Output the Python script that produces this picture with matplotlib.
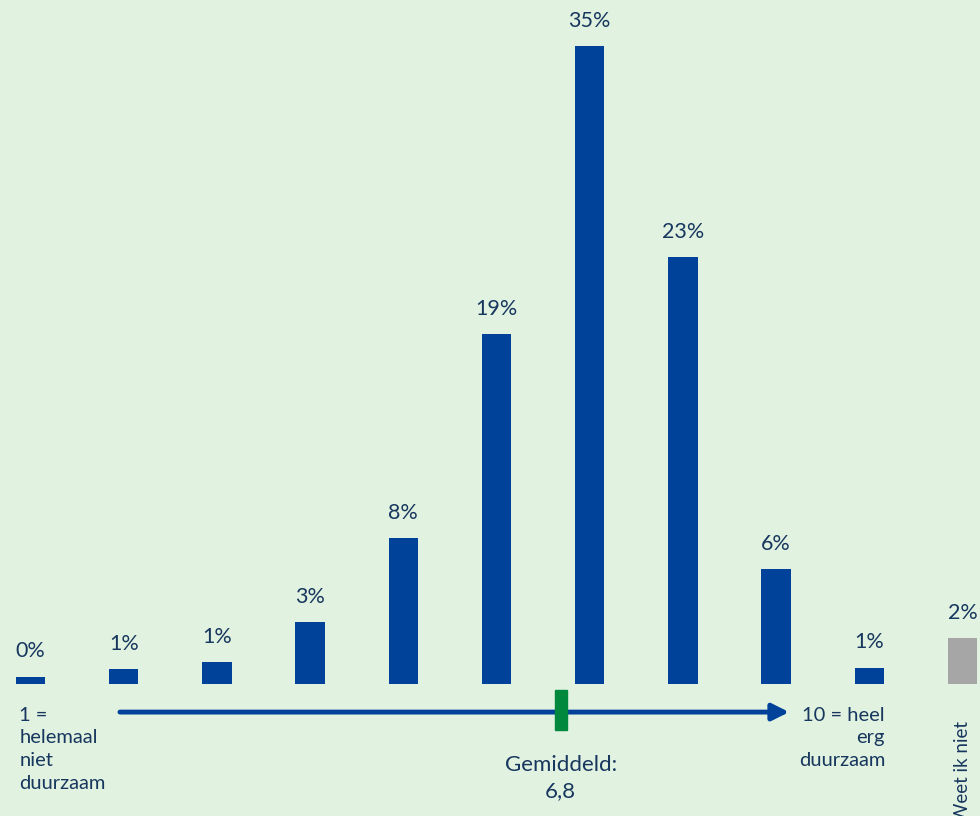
import matplotlib.pyplot as plt
from matplotlib.patches import Rectangle

plt.rcParams['font.family'] = ['Lato', 'DejaVu Sans']

categories = ['1', '2', '3', '4', '5', '6', '7', '8', '9', '10', 'Weet ik niet']
values = [0.4, 0.8, 1.2, 3.4, 8.0, 19.2, 35.0, 23.4, 6.3, 0.9, 2.5]
labels = ['0%', '1%', '1%', '3%', '8%', '19%', '35%', '23%', '6%', '1%', '2%']
mean_score = 6.8

bg = '#e1f2e0'
blue = '#00419a'
grey = '#a6a6a6'
green = '#00893e'
txt = '#17375e'

fig = plt.figure(figsize=(9.8, 8.16), dpi=100, facecolor=bg)
ax = fig.add_axes([0, 0, 1, 1])
ax.set_facecolor(bg)

x = list(range(len(categories)))
colors = [blue] * 10 + [grey]
ax.bar(x, values, width=0.315, color=colors)

for xi, v, lab in zip(x, values, labels):
    ax.annotate(lab, (xi, v), xytext=(0, 11), textcoords='offset points',
                ha='center', va='bottom', fontsize=15.5, color=txt)

# px per unit: 18.23, baseline at 684 px from top
ax.set_xlim(-0.327, 10.188)
ax.set_ylim(-7.24, 37.52)
ax.axis('off')

# schaal-pijl
ax.annotate('', xy=(8.14, -1.54), xytext=(0.96, -1.54),
            arrowprops=dict(arrowstyle='-|>,head_length=1.0,head_width=0.5',
                            color=blue, lw=3.5, shrinkA=0, shrinkB=0))
ax.add_patch(Rectangle((5.625, -2.52), 0.13, 2.19, color=green, zorder=5))

ax.text(-0.12, -1.25, '1 =\nhelemaal\nniet\nduurzaam', ha='left', va='top',
        fontsize=14.5, color=txt, linespacing=1.4)
ax.text(9.17, -1.25, '10 = heel\nerg\nduurzaam', ha='right', va='top',
        fontsize=14.5, color=txt, linespacing=1.4, multialignment='right')
ax.text(5.69, -3.9, 'Gemiddeld:\n' + str(mean_score).replace('.', ','),
        ha='center', va='top', fontsize=16, color=txt, linespacing=1.4)
ax.text(10.0, -2.05, 'Weet ik niet', rotation=90, ha='center', va='top',
        fontsize=13.5, color=txt)

fig.savefig('out.png', dpi=100, facecolor=bg)
